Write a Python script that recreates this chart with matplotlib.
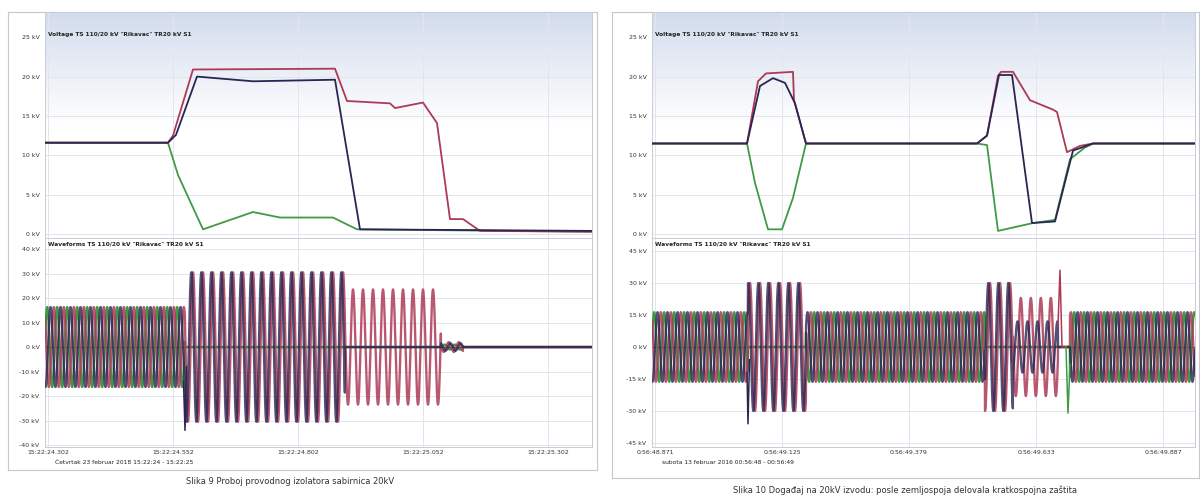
import numpy as np
import matplotlib
matplotlib.use("Agg")
import matplotlib.pyplot as plt

W, H = 1200, 496

# ---- left event (Slika 9), time in ms ----
L_rms_t_red = [-6, 240, 250, 290, 574, 598, 684, 694, 750, 778, 804, 830, 864, 1088]
L_rms_v_red = [11.6, 11.6, 12.5, 20.9, 21.0, 16.9, 16.6, 16.0, 16.7, 14.1, 1.9, 1.9, 0.4, 0.3]
L_rms_t_blk = [-6, 240, 256, 298, 410, 574, 624, 1088]
L_rms_v_blk = [11.6, 11.6, 12.6, 20.0, 19.4, 19.6, 0.6, 0.4]
L_rms_t_grn = [-6, 240, 260, 310, 410, 464, 570, 618, 1088]
L_rms_v_grn = [11.6, 11.6, 7.5, 0.6, 2.8, 2.1, 2.1, 0.6, 0.3]

# waveform segments: boundaries, peak amplitude and phase angle per phase
L_seg_t = [-6, 274, 594, 786, 830, 1088]
L_amp_blk = [16.3, 30.5, 0.0, 1.5, 0.0]
L_amp_red = [16.3, 30.5, 23.5, 2.0, 0.0]
L_amp_grn = [16.3, 0.0, 0.0, 1.0, 0.0]
L_ph_blk = [0, -30, 0, 0, 0]
L_ph_red = [-120, -90, -90, 60, 0]
L_ph_grn = [120, 0, 0, 200, 0]
L_spike_t = [271, 274, 277]
L_spike_v = [-14, -34, -8]

L_ticks = [0, 250, 500, 750, 1000]
L_ticklabels = ["15:22:24.302", "15:22:24.552", "15:22:24.802", "15:22:25.052", "15:22:25.302"]

# ---- right event (Slika 10) ----
R_rms_t_red = [-6, 184, 206, 222, 276, 278, 302, 644, 664, 686, 692, 716, 750, 796, 804, 824, 850, 876, 1080]
R_rms_v_red = [11.5, 11.5, 19.4, 20.4, 20.6, 17.0, 11.5, 11.5, 12.5, 20.1, 20.6, 20.6, 17.0, 15.8, 15.5, 10.4, 11.2, 11.5, 11.5]
R_rms_t_blk = [-6, 184, 210, 236, 260, 280, 302, 644, 664, 688, 714, 754, 800, 836, 876, 1080]
R_rms_v_blk = [11.5, 11.5, 18.8, 19.8, 19.2, 16.6, 11.5, 11.5, 12.5, 20.2, 20.2, 1.4, 1.6, 10.6, 11.5, 11.5]
R_rms_t_grn = [-6, 184, 200, 226, 254, 276, 302, 644, 664, 686, 756, 800, 830, 860, 876, 1080]
R_rms_v_grn = [11.5, 11.5, 6.5, 0.6, 0.6, 4.6, 11.5, 11.5, 11.3, 0.4, 1.4, 1.8, 9.5, 11.0, 11.5, 11.5]

R_seg_t = [-6, 186, 302, 660, 716, 806, 830, 1080]
R_amp_blk = [16.3, 30.0, 16.3, 30.0, 12.0, 0.0, 16.3]
R_amp_red = [16.3, 30.0, 16.3, 30.0, 23.0, 0.0, 16.3]
R_amp_grn = [16.3, 0.0, 16.3, 0.0, 0.0, 0.0, 16.3]
R_ph_blk = [0, -30, 0, -30, 0, 0, 0]
R_ph_red = [-120, -90, -120, -90, -120, 0, -120]
R_ph_grn = [120, 0, 120, 0, 0, 0, 120]
R_spike_t = [184, 186, 189]
R_spike_v = [-12, -36, -6]
R_spike2_t = [806, 810, 814, 822, 826, 830]
R_spike2_v = [10, 36, 0, 0, -31, -8]

R_ticks = [0, 254, 508, 762, 1016]
R_ticklabels = ["0:56:48.871", "0:56:49.125", "0:56:49.379", "0:56:49.633", "0:56:49.887"]

C_RED = "#ad3a55"
C_BLK = "#2a2552"
C_GRN = "#3f9a48"


def rect(x0, y0, x1, y1):
    return [x0 / W, 1 - y1 / H, (x1 - x0) / W, (y1 - y0) / H]


def wave(seg_t, amp, ph, t):
    y = np.zeros_like(t)
    for i in range(len(seg_t) - 1):
        m = (t >= seg_t[i]) & (t < seg_t[i + 1])
        y[m] = amp[i] * np.sin(2 * np.pi * t[m] / 20.0 + np.deg2rad(ph[i]))
    return y


def style(ax, xlim, ylim, yt, ytl):
    ax.set_xlim(*xlim)
    ax.set_ylim(*ylim)
    ax.set_yticks(yt)
    ax.set_yticklabels(ytl)
    ax.tick_params(length=0, labelsize=4.5, colors="#333333", pad=4)
    ax.grid(True, color="#e2e6ec", lw=0.7)
    for s in ax.spines.values():
        s.set_color("#c8ccd4")
        s.set_linewidth(0.7)


fig = plt.figure(figsize=(W / 100, H / 100), dpi=100)
fig.patch.set_facecolor("white")

grad = np.linspace(0, 1, 100).reshape(-1, 1)
grad_cmap = matplotlib.colors.LinearSegmentedColormap.from_list("g", ["white", "white", "#d3dcee"])

panels = [
    dict(x0=45, x1=592, fx0=8, fx1=597, fy1=470,
         rms=[(L_rms_t_grn, L_rms_v_grn, C_GRN), (L_rms_t_red, L_rms_v_red, C_RED), (L_rms_t_blk, L_rms_v_blk, C_BLK)],
         seg=L_seg_t, amps=(L_amp_blk, L_amp_red, L_amp_grn), phs=(L_ph_blk, L_ph_red, L_ph_grn),
         spikes=[(L_spike_t, L_spike_v, C_BLK)], xlim=(-6, 1088), ticks=L_ticks, tl=L_ticklabels,
         wy=(-40.8, 44.5), wyt=[40, 30, 20, 10, 0, -10, -20, -30, -40],
         date="Četvrtak 23 februar 2018 15:22:24 - 15:22:25",
         cap="Slika 9 Proboj provodnog izolatora sabirnica 20kV", capx=290, capy=482),
    dict(x0=652, x1=1195, fx0=612, fx1=1199, fy1=478,
         rms=[(R_rms_t_grn, R_rms_v_grn, C_GRN), (R_rms_t_red, R_rms_v_red, C_RED), (R_rms_t_blk, R_rms_v_blk, C_BLK)],
         seg=R_seg_t, amps=(R_amp_blk, R_amp_red, R_amp_grn), phs=(R_ph_blk, R_ph_red, R_ph_grn),
         spikes=[(R_spike_t, R_spike_v, C_BLK), (R_spike2_t[:4], R_spike2_v[:4], C_RED), (R_spike2_t[3:], R_spike2_v[3:], C_GRN)],
         xlim=(-6, 1080), ticks=R_ticks, tl=R_ticklabels,
         wy=(-46.9, 51.1), wyt=[45, 30, 15, 0, -15, -30, -45],
         date="subota 13 februar 2016 00:56:48 - 00:56:49",
         cap="Slika 10 Događaj na 20kV izvodu: posle zemljospoja delovala kratkospojna zaštita", capx=905, capy=490),
]

for p in panels:
    # outer frame of the screenshot
    frame = fig.add_axes(rect(p["fx0"], 12, p["fx1"], p["fy1"]))
    frame.set_xticks([])
    frame.set_yticks([])
    for s in frame.spines.values():
        s.set_color("#c4c8cf")
        s.set_linewidth(0.8)
    frame.set_zorder(-5)

    # RMS voltage
    ax1 = fig.add_axes(rect(p["x0"], 12, p["x1"], 238))
    ax1.imshow(grad, extent=[0, 1, 0, 1], transform=ax1.transAxes, aspect="auto",
               cmap=grad_cmap, zorder=0, origin="lower")
    for tt, vv, c in p["rms"]:
        ax1.plot(tt, vv, color=c, lw=1.3, zorder=3)
    style(ax1, p["xlim"], (-0.5, 28.2), [0, 5, 10, 15, 20, 25],
          ["0 kV", "5 kV", "10 kV", "15 kV", "20 kV", "25 kV"])
    ax1.set_xticks(p["ticks"])
    ax1.set_xticklabels([])
    ax1.text(0.006, 0.9, 'Voltage TS 110/20 kV "Rikavac" TR20 kV S1', transform=ax1.transAxes,
             fontsize=4.2, fontweight="bold", color="#222222", va="center")

    # waveform
    ax2 = fig.add_axes(rect(p["x0"], 238, p["x1"], 447))
    t = np.arange(p["xlim"][0], p["xlim"][1], 0.25)
    ax2.axhline(0, color="#3a3a3a", lw=0.9, zorder=2)
    ax2.plot(t, wave(p["seg"], p["amps"][2], p["phs"][2], t), color=C_GRN, lw=1.7, zorder=3)
    ax2.plot(t, wave(p["seg"], p["amps"][1], p["phs"][1], t), color=C_RED, lw=1.7, zorder=4, alpha=0.85)
    ax2.plot(t, wave(p["seg"], p["amps"][0], p["phs"][0], t), color=C_BLK, lw=1.7, zorder=5, alpha=0.8)
    for st, sv, c in p["spikes"]:
        ax2.plot(st, sv, color=c, lw=1.1, zorder=6)
    style(ax2, p["xlim"], p["wy"], p["wyt"], [f"{v} kV" for v in p["wyt"]])
    ax2.set_xticks(p["ticks"])
    ax2.set_xticklabels(p["tl"])
    ax2.tick_params(axis="x", pad=2)
    ax2.text(0.006, 0.985, 'Waveforms TS 110/20 kV "Rikavac" TR20 kV S1', transform=ax2.transAxes,
             fontsize=4.2, fontweight="bold", color="#222222", va="top")

    fig.text((p["x0"] + 10) / W, 1 - 463 / H, p["date"], fontsize=4.3, color="#222222", va="center")
    fig.text(p["capx"] / W, 1 - p["capy"] / H, p["cap"], fontsize=6, color="#333333",
             ha="center", va="center")

fig.savefig("out.png", dpi=100)
